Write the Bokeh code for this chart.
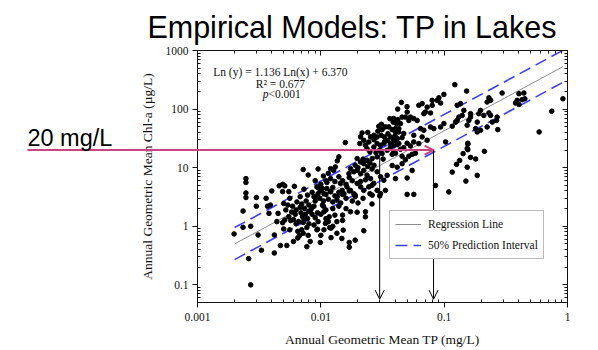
from bokeh.plotting import figure
from bokeh.models import (FixedTicker, CustomJSTickFormatter, Label, Arrow, OpenHead,
                          Legend, LegendItem, LogAxis, ColumnDataSource)
from bokeh.core.properties import value
from bokeh.embed import file_html
from bokeh.resources import INLINE

# ---------------- texts ----------------
title_text = "Empirical Models: TP in Lakes"
x_label = "Annual Geometric Mean TP (mg/L)"
y_label = "Annual Geometric Mean Chl-a (\u00b5g/L)"
eq_text = "Ln (y) = 1.136 Ln(x) + 6.370"
r2_text = "R\u00b2 = 0.677"
p_sym = "p"
p_val = "<0.001"
target_text = "20 mg/L"
legend_labels = ["Regression Line", "50% Prediction Interval"]

# ---------------- ticks ----------------
x_ticks = [0.001, 0.01, 0.1, 1]
x_tick_labels = ["0.001", "0.01", "0.1", "1"]
y_ticks = [0.1, 1, 10, 100, 1000]
y_tick_labels = ["0.1", "1", "10", "100", "1000"]

# ---------------- model lines ----------------
line_x = [0.002, 0.92]
reg_y = [0.50, 531]
pi_upper_y = [0.95, 1010]
pi_lower_y = [0.27, 287]

# ---------------- target arrows ----------------
target_chl = 20
target_tp = [0.03, 0.082]
arrow_bottom = 0.057

# ---------------- observations ----------------
tp = [
    0.00198, 0.00234, 0.00234, 0.00247, 0.00247, 0.00247, 0.00247, 0.0026, 0.0027, 0.0027,
    0.0030, 0.0030, 0.0031, 0.0033, 0.0036, 0.0037, 0.0039, 0.0038, 0.0040, 0.0042, 0.0042,
    0.0045, 0.0046, 0.0049, 0.0051, 0.0049, 0.0050, 0.0051, 0.0049, 0.0050, 0.0047, 0.0053,
    0.0055, 0.0056, 0.0061, 0.0054, 0.0055, 0.0057, 0.0056, 0.0059, 0.0062, 0.0063, 0.0063,
    0.0065, 0.0065, 0.0067, 0.0072, 0.0079, 0.0073, 0.0077, 0.0071, 0.0073, 0.0075, 0.0078,
    0.0070, 0.0072, 0.0077,
    0.0058, 0.0060, 0.0052, 0.0064, 0.0068, 0.0069, 0.0066, 0.0070, 0.0074, 0.0076, 0.0080,
    0.0044, 0.0060, 0.0068, 0.0078, 0.0080, 0.0079, 0.0072,
    0.0080, 0.0083, 0.0088, 0.0091, 0.0095, 0.0100, 0.0103, 0.0093, 0.0106, 0.0085, 0.0094,
    0.0110, 0.0103,
    0.0094, 0.0100, 0.0099, 0.0121, 0.0135, 0.0152, 0.0148, 0.0170, 0.0170, 0.0190, 0.0174,
    0.0197, 0.0230, 0.0230, 0.0260, 0.0223, 0.0130, 0.0150, 0.0150, 0.0109, 0.0115, 0.0118,
    0.0121, 0.0106, 0.0117, 0.0082,
    0.0085, 0.0090, 0.0095, 0.0100, 0.0105, 0.0110, 0.0125, 0.0135, 0.0140, 0.0160, 0.0125,
    0.0088,
    0.0085, 0.0090, 0.0095, 0.0098, 0.0105, 0.0110, 0.0115, 0.0120, 0.0125, 0.0130, 0.0135,
    0.0140, 0.0145, 0.0150, 0.0160, 0.0170, 0.0180, 0.0190, 0.0200, 0.0220, 0.0250, 0.0300,
    0.0095, 0.0105, 0.0090, 0.0112,
    0.0363, 0.0386, 0.0411, 0.0421, 0.0356, 0.0379, 0.0403, 0.0429, 0.0295, 0.0314, 0.0334,
    0.0308, 0.0328, 0.0286, 0.0269, 0.0253, 0.0245, 0.0223, 0.0210, 0.0216, 0.0207, 0.0230,
    0.0237, 0.0250, 0.0269, 0.0286, 0.0305, 0.0324, 0.0345, 0.0367, 0.0391, 0.0416, 0.0429,
    0.0367, 0.0345, 0.0391, 0.0314, 0.0286, 0.0261, 0.0237, 0.0223, 0.0210, 0.0197, 0.0158,
    0.0140, 0.0136, 0.0120, 0.0127, 0.0131, 0.0174, 0.0185, 0.0169, 0.0197, 0.0210, 0.0223,
    0.0237, 0.0253, 0.0286, 0.0305, 0.0324, 0.0345, 0.0269, 0.0245, 0.0223, 0.0210, 0.0197,
    0.0185, 0.0174, 0.0163, 0.0154, 0.0149, 0.0144, 0.0120, 0.0112, 0.0106, 0.0099, 0.0093,
    0.0088, 0.0136, 0.0286, 0.0305, 0.0261, 0.0334,
    0.012, 0.013, 0.014, 0.015, 0.016, 0.017, 0.018, 0.019, 0.020, 0.022, 0.024, 0.025,
    0.026, 0.027, 0.028, 0.030, 0.032, 0.033, 0.035, 0.038, 0.040, 0.027, 0.029, 0.031,
    0.011, 0.010, 0.0115, 0.0125, 0.019, 0.021, 0.023, 0.026, 0.024,
    0.122, 0.0995, 0.152, 0.0878, 0.0906, 0.0935, 0.080, 0.080, 0.0663, 0.0623, 0.0728,
    0.0684, 0.0705, 0.0775, 0.0501, 0.0485, 0.0517, 0.0533, 0.0567, 0.0604, 0.039, 0.0416,
    0.0442, 0.0456, 0.0403, 0.0428, 0.047, 0.0456, 0.039, 0.0416, 0.0643, 0.0684, 0.0775,
    0.0825, 0.0567, 0.0663, 0.0728, 0.0623, 0.0995, 0.0935, 0.1163, 0.1237, 0.1275, 0.1315,
    0.140, 0.1444, 0.1357, 0.1275, 0.1636, 0.1585, 0.1636, 0.1537, 0.1854, 0.180, 0.1854,
    0.197, 0.2097, 0.2305, 0.238, 0.2455, 0.223, 0.2689, 0.266, 0.1556, 0.1537, 0.2305,
    0.238, 0.223, 0.295, 0.272, 0.197, 0.191, 0.404, 0.443, 0.379, 0.404, 0.391, 0.429,
    0.451, 0.589, 0.745, 0.918,
    0.1027, 0.1556, 0.1556, 0.1425, 0.1636, 0.180, 0.212, 0.1335, 0.126, 0.1537, 0.1163,
    0.1854, 0.150, 0.0851, 0.109, 0.0501, 0.0567, 0.0403, 0.0501, 0.055, 0.0379, 0.0416,
    0.0456, 0.0485,
    0.0367, 0.039, 0.0416, 0.0442, 0.047, 0.0501, 0.0533, 0.0567, 0.0585, 0.0550, 0.0517,
    0.0456, 0.0403, 0.0379,
    0.045, 0.050, 0.042,
]
chl = [
    0.74, 1.82, 0.96, 6.5, 5.6, 3.7, 3.1, 0.28, 0.10, 1.0,
    3.1, 2.2, 0.71, 0.39, 3.0, 2.2, 2.3, 1.66, 4.0, 0.71, 0.35,
    1.66, 4.9, 5.2, 4.9, 3.9, 2.45, 1.28, 1.15, 0.90, 0.47, 0.47,
    3.9, 3.0, 4.8, 2.3, 1.46, 1.25, 0.87, 2.2, 1.6, 1.9, 1.1,
    0.82, 0.63, 0.69, 9.3, 7.5, 4.3, 0.45, 1.46, 1.28, 1.6, 1.36,
    0.87, 0.76, 0.95,
    1.75, 1.3, 1.9, 2.6, 2.1, 1.7, 1.2, 2.4, 2.0, 2.7, 1.8,
    1.2, 0.55, 3.2, 3.4, 1.1, 0.7, 1.16,
    2.3, 1.9, 2.2, 3.2, 3.6, 4.1, 4.4, 0.87, 0.87, 1.6, 1.7,
    1.9, 2.3,
    0.89, 0.70, 0.53, 0.64, 0.76, 0.86, 0.62, 0.53, 0.44, 0.58, 1.77,
    1.74, 1.77, 1.45, 2.4, 0.84, 1.55, 1.55, 1.26, 1.12, 1.2, 0.95,
    0.93, 1.77, 1.45, 0.55,
    2.1, 1.4, 1.2, 1.6, 2.2, 1.35, 2.0, 1.2, 2.2, 2.0, 1.0,
    1.05,
    3.8, 2.7, 4.6, 3.0, 2.7, 3.5, 2.9, 3.9, 2.6, 3.3, 2.8,
    3.8, 2.5, 3.5, 3.0, 4.0, 2.7, 3.4, 2.5, 3.0, 3.6, 3.3,
    9.5, 7.2, 6.0, 5.6,
    68.7, 60, 56.5, 66, 49.7, 44.6, 40.7, 46.3, 50.9, 44.6, 49.7,
    35.7, 33.5, 33.5, 35.7, 33.5, 27.4, 29.3, 33.5, 39.2, 25.8, 24.1,
    21.1, 18.6, 22.5, 25.8, 24.1, 25.8, 29.3, 33.5, 29.3, 31.3, 25.8,
    22.5, 19.8, 18.6, 17.4, 15.3, 14.3, 13.4, 11.7, 12.5, 14.3, 26.8,
    15.3, 13.1, 9.6, 9.0, 10.3, 9.6, 8.5, 7.9, 9.0, 7.9, 9.0,
    7.4, 6.5, 8.5, 7.0, 6.1, 7.4, 5.4, 4.7, 4.1, 4.7, 5.4,
    3.6, 4.1, 4.7, 3.6, 4.1, 5.4, 3.9, 4.4, 3.6, 4.1, 4.7,
    3.2, 3.2, 4.1, 3.6, 3.4, 4.1,
    6.5, 5.8, 7.0, 6.0, 5.2, 6.8, 6.0, 11, 10, 14, 10.5, 12,
    9.5, 11, 18, 20, 14, 28, 38, 24, 35, 30, 42, 55,
    6.0, 5.2, 8.0, 4.6, 3.2, 5.8, 6.2, 5.0, 40,
    261, 178, 203, 141, 156, 127, 141, 116, 124, 116, 108,
    83.5, 89, 86, 89, 73, 64, 73, 69, 64, 69, 60,
    56.5, 73, 46.4, 40.7, 38.2, 32.6, 31.3, 27.5, 46.4, 43.5, 49.5,
    46.4, 35.7, 33.5, 29.4, 25.8, 56.5, 49.5, 51, 60, 64, 73,
    78, 95, 124, 116, 83.5, 64, 73, 53, 60, 46.4, 40.7,
    43.5, 78, 86, 78, 60, 49.5, 73, 64, 25.1, 21.2, 156,
    141, 132, 188, 44.7, 95, 83.5, 183, 188, 127, 120, 141, 145,
    150, 40.7, 92, 150,
    27.5, 26.1, 20.3, 17.4, 15.0, 14.1, 19.0, 13.3, 11.4, 10.2, 8.4,
    7.38, 5.9, 4.96, 3.86, 3.5, 3.5, 6.5, 6.67, 8.98, 10.9, 10.2,
    11.7, 13.6,
    26.1, 23.5, 24.7, 20.6, 21.9, 26.1, 23.5, 27.5, 17.7, 16.9, 15.7,
    15.7, 17.7, 16.9,
    130, 110, 100,
]

# ---------------- colours ----------------
DOT = "black"
REG = "#8c8c8c"
PI = "#3d3dff"
PINK = "#c8457f"
SERIF = "Liberation Serif"
SANS = "Liberation Sans"

p = figure(width=598, height=350, x_axis_type="log", y_axis_type="log",
           x_range=(0.001, 1), y_range=(0.05, 1000),
           output_backend="svg", toolbar_location=None,
           min_border_left=197, min_border_right=31,
           min_border_top=50, min_border_bottom=48)
p.grid.visible = False
p.outline_line_color = None
p.background_fill_color = "white"
p.border_fill_color = "white"


def minors(lo, hi):
    return [m * 10.0 ** k for k in range(lo, hi) for m in range(2, 10)]


def label_fmt(tick_vals, tick_texts):
    return CustomJSTickFormatter(args=dict(tvals=tick_vals, ttexts=tick_texts), code="""
        for (let i = 0; i < tvals.length; i++) {
            if (Math.abs(Math.log10(tick / tvals[i])) < 1e-6) return ttexts[i];
        }
        return "";
    """)


def style(ax, tick_vals, minor_ticks, tick_texts, main):
    ax.ticker = FixedTicker(ticks=tick_vals, minor_ticks=minor_ticks)
    ax.axis_line_color = "#111111"
    ax.major_tick_line_color = "#111111"
    ax.minor_tick_line_color = "#111111"
    if main:
        ax.formatter = label_fmt(tick_vals, tick_texts)
        ax.major_tick_out = 5
        ax.major_tick_in = 0
        ax.minor_tick_out = 0
        ax.minor_tick_in = 3
    else:
        ax.formatter = CustomJSTickFormatter(code="return '';")
        ax.major_tick_out = 0
        ax.major_tick_in = 5
        ax.minor_tick_out = 0
        ax.minor_tick_in = 3
        ax.major_label_standoff = 0
    ax.major_label_text_font = SERIF
    ax.major_label_text_font_size = "11.5px"
    ax.major_label_text_color = "#111111"
    ax.axis_label_text_font = SERIF
    ax.axis_label_text_font_size = "13.5px"
    ax.axis_label_text_font_style = "normal"
    ax.axis_label_text_color = "#111111"


xa = p.below[0]
ya = p.left[0]
style(xa, x_ticks, minors(-3, 0), x_tick_labels, True)
style(ya, y_ticks, minors(-2, 3), y_tick_labels, True)
xa.axis_label = x_label
ya.axis_label = y_label
xa.major_label_standoff = 5
xa.axis_label_standoff = 8
ya.major_label_standoff = 4
ya.axis_label_standoff = 8

top_ax = LogAxis()
right_ax = LogAxis()
style(top_ax, x_ticks, minors(-3, 0), x_tick_labels, False)
style(right_ax, y_ticks, minors(-2, 3), y_tick_labels, False)
p.add_layout(top_ax, "above")
p.add_layout(right_ax, "right")

# model lines
src = ColumnDataSource(dict(x=line_x, reg=reg_y, up=pi_upper_y, lo=pi_lower_y))
r_reg = p.line("x", "reg", source=src, line_color=REG, line_width=1)
r_up = p.line("x", "up", source=src, line_color=PI, line_width=1.6, line_dash="12 6")
p.line("x", "lo", source=src, line_color=PI, line_width=1.6, line_dash="12 6")

# observations
p.scatter(tp, chl, size=4.6, color=DOT, marker="circle")

# horizontal target line (extends into the left margin) + arrow heads
p.line([4.18e-5, target_tp[1]], [target_chl, target_chl], line_color=PINK,
       line_width=2, level="overlay")
p.add_layout(Arrow(end=OpenHead(size=9, line_color=PINK, line_width=2),
                   x_start=0.05, y_start=target_chl, x_end=target_tp[1], y_end=target_chl,
                   line_color=PINK, line_width=2))
for tx in target_tp:
    p.add_layout(Arrow(end=OpenHead(size=9, line_color="black", line_width=1),
                       x_start=tx, y_start=target_chl, x_end=tx, y_end=arrow_bottom,
                       line_color="black", line_width=1))

# texts outside the frame (overlay level glyphs)
p.text(x=[0.01806], y=[2560], text=[title_text], text_font=value(SANS),
       text_font_size=value("30.5px"), text_align="center", text_baseline="alphabetic",
       text_color="black", level="overlay")
p.text(x=[4.18e-5], y=[31.7], text=[target_text], text_font=value(SANS),
       text_font_size=value("23.5px"), text_align="left", text_baseline="alphabetic",
       text_color="black", level="overlay")

# equation texts
p.add_layout(Label(x=0.0047, y=422, text=eq_text, text_font=SERIF,
                   text_font_size="11.5px", text_align="center",
                   text_baseline="middle", text_color="#111111"))
p.add_layout(Label(x=0.0047, y=264, text=r2_text, text_font=SERIF,
                   text_font_size="11.5px", text_align="center",
                   text_baseline="middle", text_color="#111111"))
p.add_layout(Label(x=0.003765, y=178, text=p_sym, text_font=SERIF,
                   text_font_size="11.5px", text_font_style="italic", text_align="right",
                   text_baseline="middle", text_color="#111111"))
p.add_layout(Label(x=0.003765, y=178, text=p_val, text_font=SERIF,
                   text_font_size="11.5px", text_align="left",
                   text_baseline="middle", text_color="#111111"))

# legend
legend = Legend(items=[LegendItem(label=legend_labels[0], renderers=[r_reg]),
                       LegendItem(label=legend_labels[1], renderers=[r_up])],
                location=(192, 43), orientation="vertical",
                label_text_font=SERIF, label_text_font_size="11.5px",
                label_text_color="#111111",
                glyph_width=26, glyph_height=16, label_height=16, label_standoff=7,
                padding=5, spacing=5, margin=0,
                border_line_color="#777777", border_line_width=1,
                background_fill_color="white", background_fill_alpha=1.0)
p.add_layout(legend)

open("out.html", "w").write(file_html(p, INLINE))
